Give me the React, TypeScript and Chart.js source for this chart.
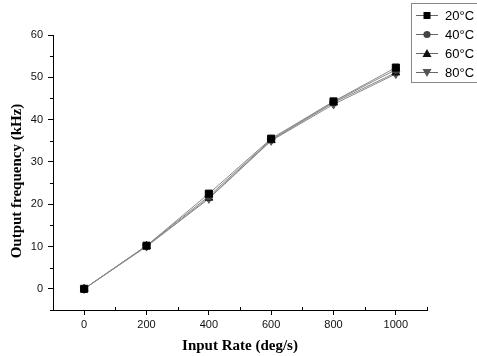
import React, { useEffect, useRef } from 'react';
import { Chart, registerables } from 'chart.js';
Chart.register(...registerables);

const inputRates = [0, 200, 400, 600, 800, 1000];
const freq20 = [0, 10.2, 22.5, 35.5, 44.3, 52.3];
const freq40 = [0, 10.2, 21.9, 35.3, 44.2, 51.8];
const freq60 = [0, 10.1, 21.5, 35.1, 44.0, 51.1];
const freq80 = [0, 10.0, 21.3, 35.0, 43.6, 50.8];
const seriesLabels = ['20°C', '40°C', '60°C', '80°C'];
const xTickValues = [0, 200, 400, 600, 800, 1000];
const yTickValues = [0, 10, 20, 30, 40, 50, 60];
const xTitle = 'Input Rate (deg/s)';
const yTitle = 'Output frequency (kHz)';

const styles = [
  { pointStyle: 'rect', color: '#000000', radius: 5, rotation: 0 },
  { pointStyle: 'circle', color: '#444444', radius: 3.6, rotation: 0 },
  { pointStyle: 'triangle', color: '#111111', radius: 4.6, rotation: 0 },
  { pointStyle: 'triangle', color: '#555555', radius: 4.6, rotation: 180 },
];

function drawMarker(ctx: CanvasRenderingContext2D, i: number, x: number, y: number) {
  const s = styles[i];
  ctx.fillStyle = s.color;
  ctx.beginPath();
  if (i === 0) {
    ctx.rect(x - 3.5, y - 3.5, 7, 7);
  } else if (i === 1) {
    ctx.arc(x, y, 3.6, 0, Math.PI * 2);
  } else if (i === 2) {
    ctx.moveTo(x, y - 4.5);
    ctx.lineTo(x + 4.5, y + 3.5);
    ctx.lineTo(x - 4.5, y + 3.5);
    ctx.closePath();
  } else {
    ctx.moveTo(x, y + 4.5);
    ctx.lineTo(x + 4.5, y - 3.5);
    ctx.lineTo(x - 4.5, y - 3.5);
    ctx.closePath();
  }
  ctx.fill();
}

const customPlugin = {
  id: 'custom',
  afterDraw(chart: any) {
    const ctx = chart.ctx;
    const xs = chart.scales.x;
    const ys = chart.scales.y;
    const area = chart.chartArea;
    ctx.save();
    ctx.strokeStyle = '#000';
    ctx.lineWidth = 1;
    // minor ticks x (inward)
    for (let v = -100; v <= 1100; v += 200) {
      const px = Math.round(xs.getPixelForValue(v)) + 0.5;
      ctx.beginPath();
      ctx.moveTo(px, area.bottom);
      ctx.lineTo(px, area.bottom - 3);
      ctx.stroke();
    }
    // minor ticks y (outward)
    for (let v = -5; v <= 55; v += 10) {
      const py = Math.round(ys.getPixelForValue(v)) + 0.5;
      ctx.beginPath();
      ctx.moveTo(area.left, py);
      ctx.lineTo(area.left - 3, py);
      ctx.stroke();
    }
    // titles
    ctx.fillStyle = '#000';
    ctx.font = 'bold 15px "Liberation Serif", "Times New Roman", serif';
    ctx.textAlign = 'center';
    ctx.textBaseline = 'middle';
    ctx.fillText(xTitle, (area.left + area.right) / 2, 346);
    ctx.save();
    ctx.translate(17, 181);
    ctx.rotate(-Math.PI / 2);
    ctx.fillText(yTitle, 0, 0);
    ctx.restore();

    // legend
    const lx = 411.5, ly = 3.5, lw = 70, lh = 79;
    ctx.strokeStyle = '#888';
    ctx.strokeRect(lx, ly, lw, lh);
    ctx.font = '13px "Liberation Sans", Arial, sans-serif';
    ctx.textAlign = 'left';
    seriesLabels.forEach((lab, i) => {
      const y = 15 + i * 19;
      ctx.strokeStyle = '#666';
      ctx.beginPath();
      ctx.moveTo(416, y + 0.5);
      ctx.lineTo(438, y + 0.5);
      ctx.stroke();
      drawMarker(ctx, i, 427, y + 0.5);
      ctx.fillStyle = '#000';
      ctx.fillText(lab, 445, y + 1);
    });
    ctx.restore();
  },
};

export default function App() {
  const ref = useRef<HTMLCanvasElement>(null);
  useEffect(() => {
    document.body.style.margin = '0';
    const series = [freq20, freq40, freq60, freq80];
    const datasets = series.map((arr, i) => ({
      label: seriesLabels[i],
      data: inputRates.map((x, j) => ({ x, y: arr[j] })),
      borderColor: '#8a8a8a',
      borderWidth: 1,
      backgroundColor: styles[i].color,
      pointBackgroundColor: styles[i].color,
      pointBorderColor: styles[i].color,
      pointBorderWidth: 1,
      pointStyle: styles[i].pointStyle,
      pointRadius: styles[i].radius,
      pointRotation: styles[i].rotation,
      tension: 0,
    }));
    const chart = new Chart(ref.current!, {
      type: 'line',
      data: { datasets },
      options: {
        animation: false,
        responsive: false,
        layout: { padding: { top: 35, right: 50, left: 0, bottom: 0 } },
        plugins: { legend: { display: false }, tooltip: { enabled: false } },
        scales: {
          x: {
            type: 'linear',
            min: -100,
            max: 1100,
            afterBuildTicks: (s: any) => { s.ticks = xTickValues.map((v) => ({ value: v })); },
            afterFit: (s: any) => { s.height = 46; },
            grid: { display: true, drawOnChartArea: false, drawTicks: true, tickLength: 5, color: 'transparent', tickColor: '#000', tickWidth: 1 },
            border: { display: true, color: '#000', width: 1 },
            ticks: { color: '#111', padding: 3, maxRotation: 0, callback: (v: any) => String(v), font: { family: '"Liberation Sans", Arial, sans-serif', size: 11 } },
          },
          y: {
            type: 'linear',
            min: -5,
            max: 60,
            afterBuildTicks: (s: any) => { s.ticks = yTickValues.map((v) => ({ value: v })); },
            afterFit: (s: any) => { s.width = 53; },
            grid: { display: true, drawOnChartArea: false, drawTicks: true, tickLength: 5, color: 'transparent', tickColor: '#000', tickWidth: 1 },
            border: { display: true, color: '#000', width: 1 },
            ticks: { color: '#111', padding: 5, callback: (v: any) => String(v), font: { family: '"Liberation Sans", Arial, sans-serif', size: 11 } },
          },
        },
      },
      plugins: [customPlugin],
    });
    return () => chart.destroy();
  }, []);
  return (
    <div style={{ width: 477, height: 356 }}>
      <canvas ref={ref} width={477} height={356} style={{ display: 'block', width: 477, height: 356 }} />
    </div>
  );
}
